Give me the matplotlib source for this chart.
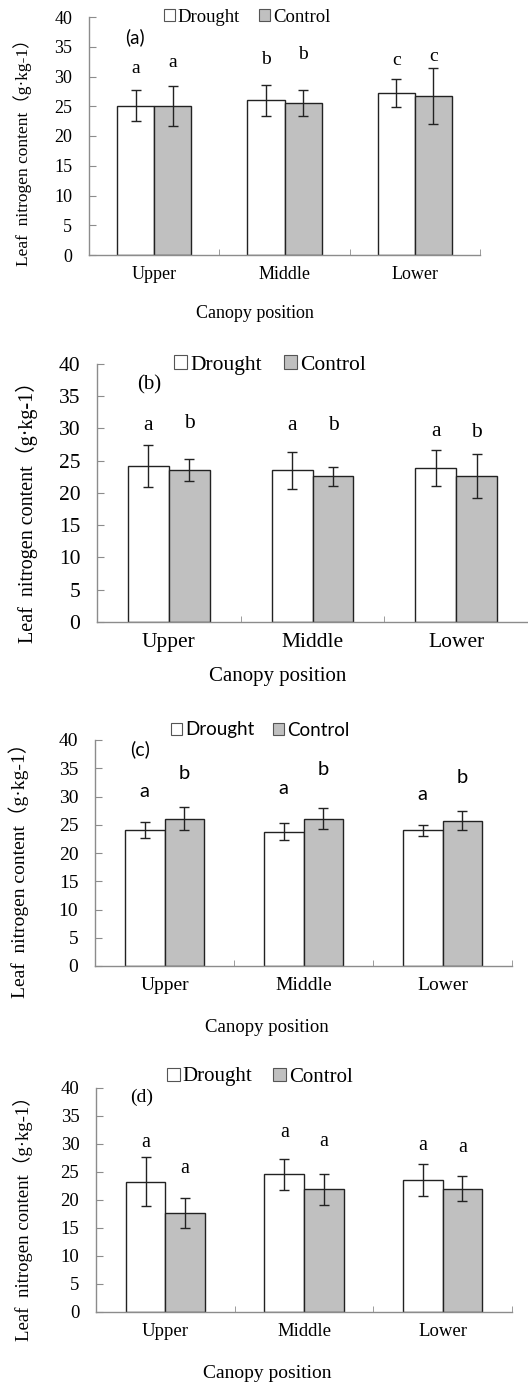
import matplotlib
matplotlib.use('Agg')
import matplotlib.pyplot as plt
from matplotlib.patches import Patch
import numpy as np

# Data (g·kg-1)
positions = ['Upper', 'Middle', 'Lower']
series_names = ['Drought', 'Control']

drought_a = [25.1, 26.0, 27.2]
drought_err_a = [2.6, 2.6, 2.4]
control_a = [25.1, 25.6, 26.7]
control_err_a = [3.35, 2.2, 4.65]
letters_drought_a = ['a', 'b', 'c']
letters_control_a = ['a', 'b', 'c']
letter_y_drought_a = [31.3, 32.8, 32.7]
letter_y_control_a = [32.3, 33.7, 33.4]

drought_b = [24.2, 23.5, 23.9]
drought_err_b = [3.2, 2.85, 2.75]
control_b = [23.5, 22.6, 22.6]
control_err_b = [1.7, 1.5, 3.4]
letters_drought_b = ['a', 'a', 'a']
letters_control_b = ['b', 'b', 'b']
letter_y_drought_b = [30.4, 30.4, 29.6]
letter_y_control_b = [30.7, 30.4, 29.4]

drought_c = [24.0, 23.8, 24.0]
drought_err_c = [1.4, 1.5, 1.0]
control_c = [26.1, 26.1, 25.7]
control_err_c = [2.0, 1.9, 1.7]
letters_drought_c = ['a', 'a', 'a']
letters_control_c = ['b', 'b', 'b']
letter_y_drought_c = [30.9, 31.5, 30.3]
letter_y_control_c = [34.0, 34.7, 33.3]

drought_d = [23.3, 24.6, 23.5]
drought_err_d = [4.45, 2.75, 2.85]
control_d = [17.7, 21.9, 22.0]
control_err_d = [2.7, 2.75, 2.25]
letters_drought_d = ['a', 'a', 'a']
letters_control_d = ['a', 'a', 'a']
letter_y_drought_d = [30.3, 32.1, 29.7]
letter_y_control_d = [25.7, 30.5, 29.4]

W, H = 528, 1383
SERIF = ['Liberation Serif', 'Noto Sans CJK SC']
SANS = ['Lato', 'DejaVu Sans']
grey = '#c0c0c0'
spine_c = '#8c8c8c'

fig = plt.figure(figsize=(W / 100, H / 100), dpi=100)

# box = (left, right, top, bottom) in pixels
panels = [
    dict(d=drought_a, de=drought_err_a, c=control_a, ce=control_err_a,
         ld=letters_drought_a, lc=letters_control_a, yd=letter_y_drought_a, yc=letter_y_control_a,
         box=(89, 480, 17, 255), tag='(a)', tagfont=SANS, tagpos=(0.092, 0.915), tagsize=13.5,
         legfont=SERIF, legpos=(247, 17), legsize=13.5,
         fs=13, ylfs=12.5, xlfs=13, letfont=SERIF, letsize=14,
         ylab=(23, 148), xlab=(255, 313)),
    dict(d=drought_b, de=drought_err_b, c=control_b, ce=control_err_b,
         ld=letters_drought_b, lc=letters_control_b, yd=letter_y_drought_b, yc=letter_y_control_b,
         box=(97, 528, 364, 622), tag='(b)', tagfont=SERIF, tagpos=(0.093, 0.918), tagsize=15,
         legfont=SERIF, legpos=(270, 365), legsize=15.5,
         fs=15.5, ylfs=14.5, xlfs=15, letfont=SERIF, letsize=15.5,
         ylab=(27, 507), xlab=(278, 676)),
    dict(d=drought_c, de=drought_err_c, c=control_c, ce=control_err_c,
         ld=letters_drought_c, lc=letters_control_c, yd=letter_y_drought_c, yc=letter_y_control_c,
         box=(95, 512, 740, 966), tag='(c)', tagfont=SANS, tagpos=(0.084, 0.96), tagsize=14,
         legfont=SANS, legpos=(260, 730), legsize=13.5,
         fs=14, ylfs=14, xlfs=13.5, letfont=SANS, letsize=14.5,
         ylab=(19, 866), xlab=(267, 1028)),
    dict(d=drought_d, de=drought_err_d, c=control_d, ce=control_err_d,
         ld=letters_drought_d, lc=letters_control_d, yd=letter_y_drought_d, yc=letter_y_control_d,
         box=(96, 512, 1088, 1312), tag='(d)', tagfont=SERIF, tagpos=(0.082, 0.96), tagsize=14,
         legfont=SERIF, legpos=(260, 1077), legsize=15,
         fs=13.5, ylfs=13.5, xlfs=14, letfont=SERIF, letsize=14.5,
         ylab=(23, 1214), xlab=(267, 1373)),
]

x = np.arange(len(positions))
bw = 0.285

for p in panels:
    l, r, t, b = p['box']
    ax = fig.add_axes([l / W, 1 - b / H, (r - l) / W, (b - t) / H])
    ax.bar(x - bw, p['d'], bw, align='edge', color='white', edgecolor='#222222', linewidth=1.0, zorder=2)
    ax.bar(x, p['c'], bw, align='edge', color=grey, edgecolor='#222222', linewidth=1.0, zorder=2)
    ax.errorbar(x - bw / 2, p['d'], yerr=p['de'], fmt='none', ecolor='#222222', elinewidth=1.0, capsize=3.5, capthick=1.0, zorder=3)
    ax.errorbar(x + bw / 2, p['c'], yerr=p['ce'], fmt='none', ecolor='#222222', elinewidth=1.0, capsize=3.5, capthick=1.0, zorder=3)
    for i in range(len(positions)):
        ax.text(x[i] - bw / 2, p['yd'][i], p['ld'][i], ha='center', va='center', fontsize=p['letsize'], family=p['letfont'])
        ax.text(x[i] + bw / 2, p['yc'][i], p['lc'][i], ha='center', va='center', fontsize=p['letsize'], family=p['letfont'])

    ax.set_xlim(-0.5, len(positions) - 0.5)
    ax.set_ylim(0, 40)
    ax.set_yticks(range(0, 41, 5))
    ax.set_xticks(x)
    ax.set_xticklabels(positions, family=SERIF, fontsize=p['fs'])
    ax.set_xticks(np.arange(-0.5, len(positions), 1.0), minor=True)
    for lab in ax.get_yticklabels():
        lab.set_family(SERIF)
        lab.set_fontsize(p['fs'])
    ax.tick_params(axis='x', which='major', length=0, pad=8)
    ax.tick_params(axis='x', which='minor', direction='in', length=4, color=spine_c)
    ax.tick_params(axis='y', direction='in', length=5, color=spine_c, pad=12)
    for s in ['top', 'right']:
        ax.spines[s].set_visible(False)
    for s in ['left', 'bottom']:
        ax.spines[s].set_color(spine_c)
        ax.spines[s].set_linewidth(1.0)

    ax.text(p['tagpos'][0], p['tagpos'][1], p['tag'], transform=ax.transAxes, ha='left', va='center',
            fontsize=p['tagsize'], family=p['tagfont'])

    handles = [Patch(facecolor='white', edgecolor='#555555', linewidth=0.8),
               Patch(facecolor=grey, edgecolor='#555555', linewidth=0.8)]
    leg = fig.legend(handles, series_names, loc='center', ncol=2, frameon=False,
                     bbox_to_anchor=(p['legpos'][0] / W, 1 - p['legpos'][1] / H),
                     handlelength=0.6, handleheight=0.6, handletextpad=0.15, columnspacing=1.0,
                     fontsize=p['legsize'])
    for txt in leg.get_texts():
        txt.set_family(p['legfont'])
        txt.set_fontsize(p['legsize'])

    fig.text(p['ylab'][0] / W, 1 - p['ylab'][1] / H, 'Leaf  nitrogen content（g·kg-1）', rotation=90,
             ha='center', va='center', fontsize=p['ylfs'], family=SERIF)
    fig.text(p['xlab'][0] / W, 1 - p['xlab'][1] / H, 'Canopy position', ha='center', va='center',
             fontsize=p['xlfs'], family=SERIF)

fig.savefig('out.png', dpi=100)
